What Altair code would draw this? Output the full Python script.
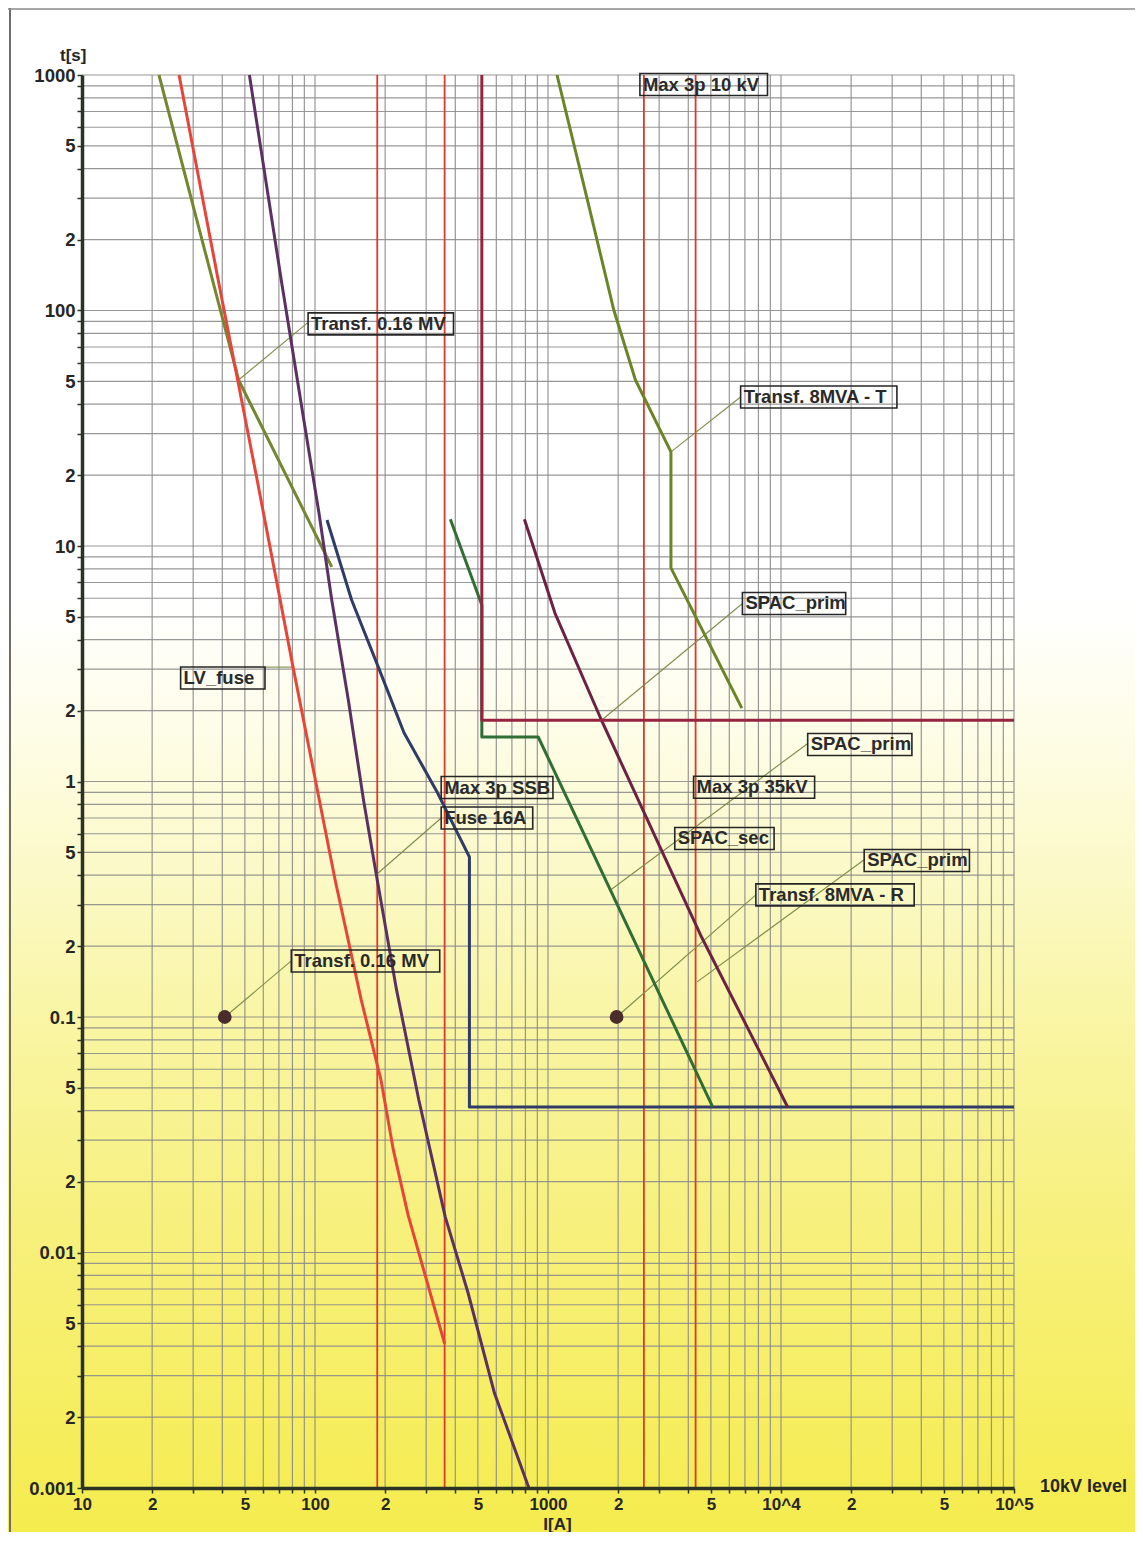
import json
import altair as alt
import pandas as pd

FONT = "Liberation Sans"

# ---------------- axis ticks / labels ----------------
X_GRID = [m * 10 ** e for e in range(1, 5) for m in range(1, 10)] + [100000]
Y_GRID = [round(m * 10.0 ** e, 6) for e in range(-3, 3) for m in range(1, 10)] + [1000.0]
X_LABELS = {10: "10", 20: "2", 50: "5", 100: "100", 200: "2", 500: "5", 1000: "1000",
            2000: "2", 5000: "5", 10000: "10^4", 20000: "2", 50000: "5", 100000: "10^5"}
Y_LABELS = {0.001: "0.001", 0.002: "2", 0.005: "5", 0.01: "0.01", 0.02: "2", 0.05: "5",
            0.1: "0.1", 0.2: "2", 0.5: "5", 1: "1", 2: "2", 5: "5", 10: "10", 20: "2",
            50: "5", 100: "100", 200: "2", 500: "5", 1000: "1000"}

# ---------------- curves (current A, time s) ----------------
SERIES = ["trafo_016_damage", "lv_fuse", "fuse_16a", "relay_lv", "spac_sec",
          "spac_prim", "trafo_8_damage", "spac_prim_inst"]
COLORS = ["#74862f", "#e8453a", "#5b3163", "#2e3c68", "#2f6f36",
          "#6d2245", "#6b8428", "#962440"]

TR016_I = [21.4, 47, 118]
TR016_T = [1000, 50.7, 8.15]
LVF_I = [26.1, 38.4, 55.4, 80.5, 122, 158, 192, 217, 251, 360]
LVF_T = [1000, 135, 21, 3.06, 0.382, 0.118, 0.054, 0.0272, 0.0144, 0.0041]
F16_I = [52.3, 71.6, 91, 104, 118, 139, 161.5, 185, 224, 279, 362, 454, 589, 828]
F16_T = [1000, 135, 31.1, 13.8, 5.9, 2.22, 0.834, 0.382, 0.130, 0.0444, 0.0142,
         0.00673, 0.00253, 0.001]
RLV_I = [112.6, 143.6, 187, 241, 336, 409, 460, 460, 100000]
RLV_T = [12.9, 5.9, 3.06, 1.61, 0.894, 0.604, 0.478, 0.0415, 0.0415]
SSEC_I = [381, 520, 520, 908, 5090]
SSEC_T = [13, 5.62, 1.545, 1.545, 0.0415]
SPRIM_I = [792, 1071, 1697, 4515, 10680]
SPRIM_T = [13, 5.19, 1.82, 0.223, 0.0415]
TR8_I = [1093, 1476, 1916, 2373, 3370, 3370, 6790]
TR8_T = [1000, 295, 100.5, 50.7, 25.1, 8.07, 2.05]
INST_I = [520, 520, 100000]
INST_T = [1000, 1.82, 1.82]

CURVE_I = [TR016_I, LVF_I, F16_I, RLV_I, SSEC_I, SPRIM_I, TR8_I, INST_I]
CURVE_T = [TR016_T, LVF_T, F16_T, RLV_T, SSEC_T, SPRIM_T, TR8_T, INST_T]

# short-circuit current markers
SC_I = [185, 360, 2580, 4300]

# inrush points
DOT_I = [41, 1970]
DOT_T = [0.1, 0.1]

# ---------------- labels ----------------
LABEL_TEXT = ["Transf. 0.16 MV", "Max 3p 10 kV", "Transf. 8MVA - T", "SPAC_prim",
              "LV_fuse", "SPAC_prim", "Max 3p SSB", "Max 3p 35kV", "Fuse 16A",
              "SPAC_sec", "SPAC_prim", "Transf. 8MVA - R", "Transf. 0.16 MV"]
LABEL_I_LEFT = [93.4, 2480, 6710, 6830, 26.5, 13020, 348, 4215, 348, 3500, 22750, 7800, 79.1]
LABEL_I_RIGHT = [393, 8750, 31440, 18950, 61.0, 36460, 1050, 13940, 860, 9340, 64380, 37290, 343]
LABEL_T = [87.7, 911, 42.9, 5.70, 2.75, 1.436, 0.943, 0.945, 0.700, 0.573, 0.462, 0.330, 0.173]

LEADER_FROM_I = [93.4, 6710, 6830, 61.0, 13020, 348, 22750, 7800, 79.1]
LEADER_FROM_T = [89, 42.9, 5.70, 3.06, 1.45, 0.70, 0.465, 0.33, 0.173]
LEADER_TO_I = [47.0, 3370, 1697, 80.5, 1855, 182, 4365, 1970, 41]
LEADER_TO_T = [50.7, 25.1, 1.82, 3.06, 0.346, 0.40, 0.141, 0.1, 0.1]

# ---------------- layout ----------------
W, H = 932, 1413
PAD = {"left": 74, "top": 67, "right": 121, "bottom": 44}

XS = alt.Scale(type="log", domain=[10, 100000], nice=False)
YS = alt.Scale(type="log", domain=[0.001, 1000], nice=False)

x_labels = [X_LABELS.get(v, "") for v in X_GRID]
y_labels = [Y_LABELS.get(v, "") for v in Y_GRID]

AXIS_COMMON = dict(
    grid=False, zindex=2, domainColor="#2b3324", domainWidth=3.5,
    tickColor="#2b3324", tickWidth=1.5, tickSize=5,
    labelFont=FONT, labelFontWeight="bold", labelColor="#262626",
    labelOverlap=False, labelFlush=False, labelBound=False,
    titleFont=FONT, titleFontSize=17, titleFontWeight="bold", titleColor="#262626",
)

AX_X = alt.Axis(
    values=X_GRID,
    labelExpr=f"{json.dumps(x_labels)}[indexof({json.dumps(X_GRID)}, datum.value)]",
    labelFontSize=17, labelPadding=3, title="I[A]", titleX=475, titleY=41,
    titleAlign="center", titleBaseline="alphabetic", **AXIS_COMMON,
)
AX_Y = alt.Axis(
    values=Y_GRID,
    labelExpr=f"{json.dumps(y_labels)}[indexof({json.dumps(Y_GRID)}, datum.value)]",
    labelFontSize=18.5, labelPadding=2, title="t[s]", titleAngle=0, titleX=4, titleY=-15,
    titleAlign="right", titleBaseline="alphabetic", **AXIS_COMMON,
)


def X(field):
    return alt.X(field, scale=XS, axis=AX_X)


def Y(field):
    return alt.Y(field, scale=YS, axis=AX_Y)


# ---------------- data frames ----------------
curve_rows = []
for name, Is, Ts in zip(SERIES, CURVE_I, CURVE_T):
    for k, (i, t) in enumerate(zip(Is, Ts)):
        curve_rows.append({"series": name, "I": i, "t": t, "ord": k})
curves_df = pd.DataFrame(curve_rows)

vgrid_df = pd.DataFrame({"I": X_GRID})
hgrid_df = pd.DataFrame({"t": Y_GRID})
sc_df = pd.DataFrame({"I": SC_I})
dots_df = pd.DataFrame({"I": DOT_I, "t": DOT_T})
labels_df = pd.DataFrame({"text": LABEL_TEXT, "I_left": LABEL_I_LEFT,
                          "I_right": LABEL_I_RIGHT, "t": LABEL_T})
leaders_df = pd.DataFrame({"I0": LEADER_FROM_I, "t0": LEADER_FROM_T,
                           "I1": LEADER_TO_I, "t1": LEADER_TO_T})
one = pd.DataFrame({"k": [0]})

# ---------------- layers ----------------
gradient = alt.Gradient(
    gradient="linear", x1=0, x2=0, y1=0, y2=1,
    stops=[
        alt.GradientStop(color="#ffffff", offset=0),
        alt.GradientStop(color="#ffffff", offset=0.39),
        alt.GradientStop(color="#fefde9", offset=0.47),
        alt.GradientStop(color="#fbf9c6", offset=0.57),
        alt.GradientStop(color="#f9f5a2", offset=0.67),
        alt.GradientStop(color="#f7f07c", offset=0.80),
        alt.GradientStop(color="#f5ec4e", offset=1.0),
    ],
)
bg = alt.Chart(one).mark_rect(fill=gradient).encode(
    x=alt.value(-PAD["left"]), x2=alt.value(W + PAD["right"]),
    y=alt.value(-PAD["top"]), y2=alt.value(H + PAD["bottom"]),
)
frame_left = alt.Chart(one).mark_rule(color="#6e6e6e", strokeWidth=2).encode(
    x=alt.value(-PAD["left"] + 2), y=alt.value(-PAD["top"]), y2=alt.value(H + PAD["bottom"]))
frame_top = alt.Chart(one).mark_rule(color="#8a8a8a", strokeWidth=1.5).encode(
    x=alt.value(-PAD["left"]), x2=alt.value(W + PAD["right"]), y=alt.value(-PAD["top"] + 1))

vgrid = alt.Chart(vgrid_df).mark_rule(color="#8c8c8c", strokeWidth=1.2, opacity=0.9).encode(
    x=X("I:Q"))
hgrid = alt.Chart(hgrid_df).mark_rule(color="#8c8c8c", strokeWidth=1.2, opacity=0.9).encode(
    y=Y("t:Q"))

sc_lines = alt.Chart(sc_df).mark_rule(color="#e0382a", strokeWidth=1.8).encode(x=X("I:Q"))

leaders = alt.Chart(leaders_df).mark_rule(color="#7f8c4a", strokeWidth=1.1).encode(
    x=X("I0:Q"), y=Y("t0:Q"), x2="I1:Q", y2="t1:Q")

lines = alt.Chart(curves_df).mark_line(strokeWidth=3, strokeJoin="round").encode(
    x=X("I:Q"),
    y=Y("t:Q"),
    color=alt.Color("series:N", scale=alt.Scale(domain=SERIES, range=COLORS), legend=None),
    order="ord:Q",
)

dots = alt.Chart(dots_df).mark_circle(size=190, color="#4a2c2c", opacity=1).encode(
    x=X("I:Q"), y=Y("t:Q"))

boxes = alt.Chart(labels_df).mark_rect(
    fill="transparent", stroke="#262626", strokeWidth=1.6, yOffset=-11, y2Offset=11
).encode(x=X("I_left:Q"), x2="I_right:Q", y=Y("t:Q"), y2="t:Q")

texts = alt.Chart(labels_df).mark_text(
    font=FONT, fontSize=18.5, fontWeight="bold", align="left", baseline="middle", dx=3,
    color="#2a2a2a"
).encode(x=X("I_left:Q"), y=Y("t:Q"), text="text:N")

level_txt = alt.Chart(one).mark_text(
    font=FONT, fontSize=18, fontWeight="bold", align="left", baseline="alphabetic",
    color="#262626"
).encode(x=alt.value(W + 26), y=alt.value(H + 4), text=alt.value("10kV level"))

chart = alt.layer(
    bg, frame_left, frame_top, vgrid, hgrid, sc_lines, leaders, lines, dots,
    boxes, texts, level_txt
).properties(
    width=W, height=H, padding=PAD, autosize=alt.AutoSizeParams(type="none"),
    background="white",
).configure_view(strokeWidth=0)

chart.save("out.html", embed_options={"renderer": "svg", "actions": False})
